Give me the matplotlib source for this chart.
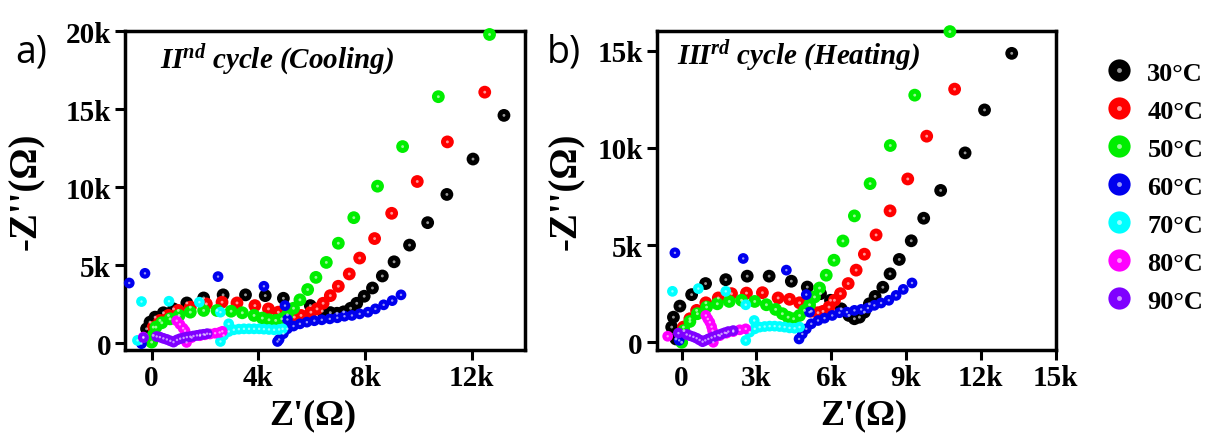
import matplotlib
matplotlib.use('Agg')
import matplotlib.pyplot as plt
from matplotlib.lines import Line2D
from matplotlib.legend_handler import HandlerTuple
from matplotlib.ticker import FuncFormatter

plt.rcParams['font.family'] = 'Liberation Serif'
plt.rcParams['font.weight'] = 'bold'
plt.rcParams['axes.labelweight'] = 'bold'
plt.rcParams['mathtext.fontset'] = 'custom'
plt.rcParams['mathtext.it'] = 'Liberation Serif:italic:bold'
plt.rcParams['mathtext.rm'] = 'Liberation Serif:bold'

temps = ['30', '40', '50', '60', '70', '80', '90']
colors = ['#000000', '#ff0000', '#00ee00', '#0000ee', '#00ffff', '#ff00ff', '#7f00ff']

# Nyquist data, Z' and -Z'' in kOhm
# II nd cycle (cooling)
cool_30_x = [-0.19, -0.06, 0.13, 0.44, 0.82, 1.32, 1.95, 2.68, 3.52, 4.26, 4.94, 5.95, 6.4, 6.7,
             6.95, 7.2, 7.46, 7.69, 7.97, 8.28, 8.65, 9.09, 9.67, 10.35, 11.07, 12.05, 13.21]
cool_30_y = [0.91, 1.34, 1.66, 1.94, 2.19, 2.57, 2.89, 3.09, 3.09, 3.04, 2.87, 2.40, 2.05, 1.95,
             1.91, 2.0, 2.23, 2.55, 3.00, 3.53, 4.30, 5.21, 6.28, 7.72, 9.53, 11.8, 14.6]
cool_40_x = [0.06, 0.31, 0.63, 1.0, 1.45, 2.05, 2.64, 3.2, 3.87, 4.38, 4.75, 5.35, 5.6, 5.97, 6.2,
             6.43, 6.7, 7.0, 7.41, 7.8, 8.36, 9.0, 9.96, 11.09, 12.49]
cool_40_y = [1.02, 1.45, 1.77, 2.09, 2.30, 2.51, 2.62, 2.57, 2.40, 2.19, 1.98, 1.66, 1.77, 1.98, 2.19,
             2.55, 3.04, 3.64, 4.43, 5.45, 6.70, 8.32, 10.36, 12.9, 16.09]
cool_50_x = [0.0, 0.06, 0.16, 0.38, 0.69, 1.03, 1.45, 1.95, 2.45, 2.98, 3.4, 3.84, 4.15, 4.4, 4.65,
             4.88, 5.09, 5.32, 5.56, 5.85, 6.16, 6.55, 7.0, 7.58, 8.47, 9.41, 10.75, 12.67]
cool_50_y = [0.06, 0.49, 1.02, 1.30, 1.55, 1.77, 1.98, 2.09, 2.09, 2.04, 1.94, 1.77, 1.60, 1.49, 1.45,
             1.55, 1.81, 2.23, 2.77, 3.43, 4.21, 5.17, 6.40, 8.04, 10.06, 12.6, 15.8, 19.79]
cool_60_x = [-0.38, -0.84, -0.25, 2.49, 4.21, 5.0, 5.09, 4.72, 4.78, 4.94, 5.09, 5.32, 5.56, 5.82,
             6.1, 6.38, 6.68, 6.96, 7.23, 7.51, 7.8, 8.11, 8.39, 8.7, 9.02, 9.35]
cool_60_y = [-0.04, 3.85, 4.47, 4.26, 3.64, 2.40, 1.51, 0.10, 0.23, 0.60, 0.91, 1.09, 1.23, 1.34,
             1.43, 1.49, 1.55, 1.62, 1.72, 1.77, 1.87, 1.98, 2.19, 2.45, 2.72, 3.09]
cool_70_x = [-0.53, -0.38, 0.65, 1.79, 2.58, 2.89, 2.58, 2.7, 2.89, 3.08, 3.27, 3.46, 3.65, 3.84,
             4.03, 4.21, 4.4, 4.59, 4.78, 4.91]
cool_70_y = [0.17, 2.66, 2.68, 2.62, 1.98, 1.23, 0.10, 0.49, 0.74, 0.85, 0.89, 0.91, 0.91, 0.91,
             0.91, 0.89, 0.87, 0.85, 0.87, 0.91]
cool_80_x = [-0.31, 0.94, 1.06, 1.18, 1.25, 1.31, 1.5, 1.81, 2.0, 2.19, 2.38, 2.55, 2.65]
cool_80_y = [0.38, 1.43, 1.2, 0.95, 0.79, 0.04, 0.35, 0.47, 0.53, 0.58, 0.63, 0.68, 0.75]
cool_90_x = [-0.31, 0.19, 0.31, 0.44, 0.57, 0.7, 0.82, 0.95, 1.07, 1.2, 1.32, 1.45, 1.57, 1.7,
             1.82, 1.95, 2.08]
cool_90_y = [0.34, 0.42, 0.38, 0.3, 0.23, 0.14, 0.06, 0.2, 0.28, 0.33, 0.38, 0.41, 0.45, 0.49,
             0.53, 0.56, 0.6]

# III rd cycle (heating)
heat_30_x = [-0.23, -0.4, -0.33, -0.07, 0.4, 0.96, 1.77, 2.63, 3.51, 4.4, 5.04, 5.57, 5.97, 6.4,
             6.71, 6.93, 7.13, 7.33, 7.53, 7.76, 8.07, 8.36, 8.73, 9.21, 9.71, 10.39, 11.37, 12.15, 13.24]
heat_30_y = [0.17, 0.78, 1.29, 1.86, 2.45, 3.02, 3.22, 3.40, 3.40, 3.14, 2.84, 2.50, 2.16, 1.72,
             1.38, 1.21, 1.29, 1.55, 1.98, 2.36, 2.83, 3.52, 4.26, 5.22, 6.38, 7.81, 9.74, 11.95, 14.86]
heat_40_x = [0.07, 0.33, 0.6, 0.97, 1.47, 2.0, 2.6, 3.24, 3.87, 4.33, 4.73, 5.2, 5.47, 5.67, 5.91,
             6.13, 6.37, 6.68, 7.0, 7.33, 7.8, 8.36, 9.07, 9.83, 10.95]
heat_40_y = [0.78, 1.21, 1.64, 2.03, 2.28, 2.50, 2.53, 2.55, 2.28, 2.21, 2.03, 1.6, 1.52, 1.59, 1.81,
             2.16, 2.50, 3.02, 3.71, 4.53, 5.52, 6.76, 8.40, 10.6, 13.02]
heat_50_x = [0.0, 0.09, 0.33, 0.63, 1.0, 1.43, 1.91, 2.4, 2.93, 3.4, 3.77, 4.04, 4.27, 4.49, 4.73,
             4.93, 5.13, 5.33, 5.53, 5.8, 6.11, 6.47, 6.93, 7.56, 8.37, 9.35, 10.76]
heat_50_y = [0.0, 0.60, 1.07, 1.47, 1.81, 1.98, 2.10, 2.16, 2.10, 1.93, 1.69, 1.47, 1.29, 1.21, 1.38,
             1.64, 1.93, 2.33, 2.79, 3.45, 4.22, 5.21, 6.50, 8.16, 10.12, 12.71, 15.98]
heat_60_x = [-0.1, -0.27, 2.47, 4.2, 5.0, 5.13, 4.71, 4.84, 5.0, 5.2, 5.47, 5.73, 6.04, 6.33, 6.63,
             6.93, 7.2, 7.47, 7.73, 8.0, 8.31, 8.6, 8.89, 9.24]
heat_60_y = [0.1, 4.60, 4.31, 3.71, 2.45, 1.55, 0.17, 0.43, 0.69, 0.95, 1.12, 1.24, 1.38, 1.52, 1.55,
             1.64, 1.69, 1.76, 1.90, 2.02, 2.16, 2.41, 2.72, 3.05]
heat_70_x = [-0.37, 0.67, 1.77, 2.57, 2.91, 2.57, 2.73, 2.93, 3.13, 3.33, 3.53, 3.73, 3.93, 4.13,
             4.33, 4.53, 4.73]
heat_70_y = [2.62, 2.76, 2.62, 1.93, 1.12, 0.09, 0.52, 0.69, 0.78, 0.81, 0.83, 0.83, 0.81, 0.78,
             0.74, 0.72, 0.78]
heat_80_x = [-0.56, 0.97, 1.05, 1.13, 1.2, 1.24, 1.27, 1.53, 1.8, 2.07, 2.33, 2.57]
heat_80_y = [0.31, 1.38, 1.2, 1.03, 0.8, 0.6, 0.0, 0.34, 0.47, 0.55, 0.64, 0.69]
heat_90_x = [-0.13, 0.2, 0.33, 0.47, 0.6, 0.72, 0.84, 0.95, 1.07, 1.2, 1.33, 1.47, 1.6, 1.73, 1.87, 2.07]
heat_90_y = [0.47, 0.4, 0.34, 0.28, 0.21, 0.12, 0.03, 0.1, 0.17, 0.24, 0.31, 0.37, 0.43, 0.49, 0.55, 0.6]

cooling = {'30': (cool_30_x, cool_30_y), '40': (cool_40_x, cool_40_y), '50': (cool_50_x, cool_50_y),
           '60': (cool_60_x, cool_60_y), '70': (cool_70_x, cool_70_y), '80': (cool_80_x, cool_80_y),
           '90': (cool_90_x, cool_90_y)}
heating = {'30': (heat_30_x, heat_30_y), '40': (heat_40_x, heat_40_y), '50': (heat_50_x, heat_50_y),
           '60': (heat_60_x, heat_60_y), '70': (heat_70_x, heat_70_y), '80': (heat_80_x, heat_80_y),
           '90': (heat_90_x, heat_90_y)}


def k_label(v, pos):
    return '0' if v == 0 else '%dk' % v


def draw_panel(ax, series, xticks, yticks, xlim, ylim):
    for t, c in zip(temps, colors):
        x, y = series[t]
        size = 85 if t in ('30', '40', '50') else 60
        ax.scatter(x, y, s=size, color=c, edgecolors='none', zorder=3, clip_on=False)
        # small glossy highlight on each ball
        ax.scatter(x, y, s=size * 0.05, color='white', alpha=0.6, edgecolors='none',
                   zorder=4, clip_on=False)
    ax.set_xlim(xlim)
    ax.set_ylim(ylim)
    ax.set_xticks(xticks)
    ax.set_yticks(yticks)
    ax.xaxis.set_major_formatter(FuncFormatter(k_label))
    ax.yaxis.set_major_formatter(FuncFormatter(k_label))
    ax.tick_params(direction='out', length=7, width=2.2, labelsize=21, pad=3)
    for sp in ax.spines.values():
        sp.set_linewidth(2.5)
    ax.set_xlabel("Z'(\u03a9)", fontsize=26)
    ax.set_ylabel("-Z''(\u03a9)", fontsize=28)


fig = plt.figure(figsize=(12.05, 4.35), dpi=100)
ax1 = fig.add_axes([0.1037, 0.193, 0.332, 0.733])
ax2 = fig.add_axes([0.545, 0.193, 0.331, 0.733])

draw_panel(ax1, cooling, [0, 4, 8, 12], [0, 5, 10, 15, 20], (-1.0, 14.0), (-0.45, 20.0))
draw_panel(ax2, heating, [0, 3, 6, 9, 12, 15], [0, 5, 10, 15], (-1.0, 15.0), (-0.4, 16.0))

ax1.xaxis.set_label_coords(0.47, -0.15)
ax2.xaxis.set_label_coords(0.52, -0.15)
ax1.yaxis.set_label_coords(-0.2, 0.5)
ax2.yaxis.set_label_coords(-0.18, 0.5)

ax1.text(0.0875, 0.887, r"II$^{nd}$ cycle (Cooling)", transform=ax1.transAxes,
         fontsize=21, fontstyle='italic', va='baseline')
ax2.text(0.05, 0.90, r"III$^{rd}$ cycle (Heating)", transform=ax2.transAxes,
         fontsize=21, fontstyle='italic', va='baseline')

fig.text(15 / 1205, 1 - 63 / 435, 'a)', fontfamily='Open Sans', fontweight='normal',
         fontsize=27, va='baseline')
fig.text(547 / 1205, 1 - 63 / 435, 'b)', fontfamily='Open Sans', fontweight='normal',
         fontsize=27, va='baseline')

handles = []
for c in colors:
    ball = Line2D([], [], marker='o', ls='none', ms=16, mfc=c, mec='none')
    shine = Line2D([], [], marker='o', ls='none', ms=3.5, mfc='white', mec='none', alpha=0.6)
    handles.append((ball, shine))
fig.legend(handles, ['%s\u00b0C' % t for t in temps], handler_map={tuple: HandlerTuple()},
           loc='upper left', bbox_to_anchor=(0.918, 0.857), frameon=False, fontsize=19,
           handlelength=1.0, handletextpad=0.56, labelspacing=0.55, borderpad=0, borderaxespad=0)

fig.savefig('out.png', dpi=100)
